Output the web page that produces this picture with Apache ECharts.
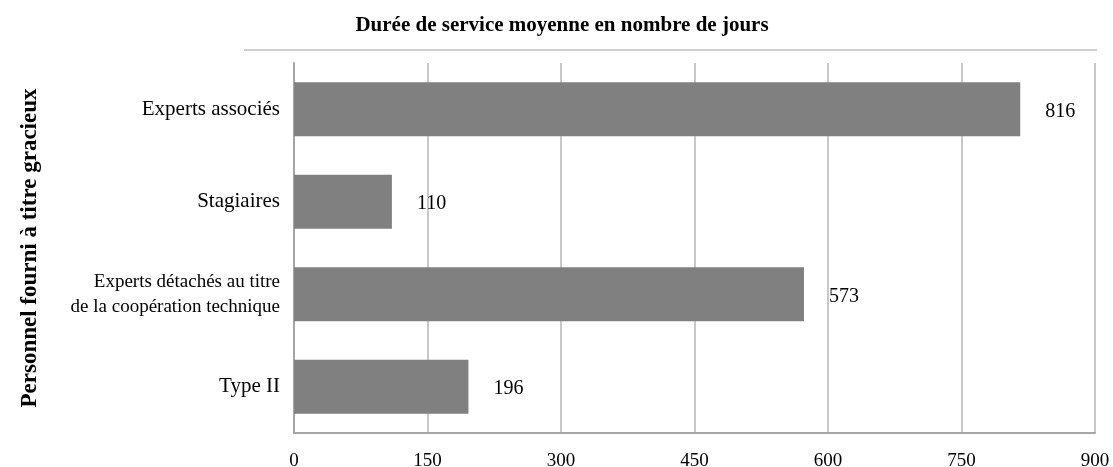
<!DOCTYPE html>
<html>
<head>
<meta charset="utf-8">
<script src="https://cdn.jsdelivr.net/npm/echarts@6/dist/echarts.min.js"></script>
<style>
html,body{margin:0;padding:0;background:#fff;}
#chart{width:1113px;height:467px;}
</style>
</head>
<body>
<div id="chart"></div>
<script>
var categories = ['Experts associés', 'Stagiaires', 'Experts détachés au titre\nde la coopération technique', 'Type II'];
var values = [816, 110, 573, 196];
var xTicks = [0, 150, 300, 450, 600, 750, 900];
var chartTitle = 'Durée de service moyenne en nombre de jours';
var yTitle = 'Personnel fourni à titre gracieux';

var serif = '"Liberation Serif", "DejaVu Serif", serif';
var chart = echarts.init(document.getElementById('chart'));
chart.setOption({
  animation: false,
  backgroundColor: '#fff',
  title: {
    text: chartTitle,
    left: 562,
    textAlign: 'center',
    top: 15,
    padding: 0,
    textStyle: {fontFamily: serif, fontSize: 21, fontWeight: 'bold', color: '#000'}
  },
  graphic: [{
    type: 'line',
    shape: {x1: 244, y1: 50, x2: 1097, y2: 50},
    style: {stroke: '#cfcfcf', lineWidth: 2}
  }],
  grid: {left: 294, right: 18, top: 63, bottom: 34, containLabel: false, outerBoundsMode: 'none'},
  xAxis: {
    type: 'value',
    min: xTicks[0],
    max: xTicks[xTicks.length - 1],
    interval: xTicks[1] - xTicks[0],
    axisLine: {show: true, lineStyle: {color: '#a6a6a6', width: 2}},
    axisTick: {show: false},
    axisLabel: {fontFamily: serif, fontSize: 19, color: '#000', margin: 19},
    splitLine: {show: true, lineStyle: {color: '#c8c8c8', width: 2}}
  },
  yAxis: {
    type: 'category',
    inverse: true,
    data: categories,
    name: yTitle,
    nameLocation: 'middle',
    nameGap: 252,
    nameRotate: 90,
    nameTextStyle: {fontFamily: serif, fontSize: 23, fontWeight: 'bold', color: '#000'},
    axisLine: {show: true, lineStyle: {color: '#a6a6a6', width: 2}},
    axisTick: {show: false},
    axisLabel: {
      fontFamily: serif, fontSize: 21, color: '#000', margin: 14, lineHeight: 24, align: 'right',
      formatter: function (v) {
        if (v.indexOf('\n') < 0) return v;
        return v.split('\n').map(function (s) { return '{s|' + s + '}'; }).join('\n');
      },
      rich: {s: {fontFamily: serif, fontSize: 19, lineHeight: 25, color: '#000'}}
    },
    splitLine: {show: false}
  },
  series: [{
    type: 'bar',
    data: values,
    barWidth: 54,
    itemStyle: {color: '#808080'},
    label: {
      show: true,
      position: 'right',
      distance: 25,
      offset: [0, 2],
      fontFamily: serif,
      fontSize: 20,
      color: '#000'
    }
  }]
});
</script>
</body>
</html>
